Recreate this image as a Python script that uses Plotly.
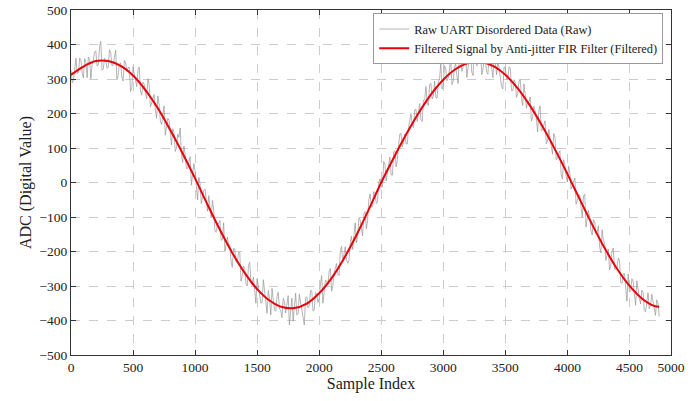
import plotly.graph_objects as go

# Filtered signal (read every 100 samples)
filt_x = [0, 100, 200, 300, 400, 500, 600, 700, 800, 900,
          1000, 1100, 1200, 1300, 1400, 1500, 1600, 1700, 1800, 1900,
          2000, 2100, 2200, 2300, 2400, 2500, 2600, 2700, 2800, 2900,
          3000, 3100, 3200, 3300, 3400, 3500, 3600, 3700, 3800, 3900,
          4000, 4100, 4200, 4300, 4400, 4500, 4600, 4700, 4740]
filt_y = [312, 336, 352, 352, 338, 310, 268, 215, 152, 84,
          12, -64, -137, -204, -262, -309, -342, -361, -364, -351,
          -321, -277, -220, -153, -78, 0, 71, 139, 201, 255,
          298, 329, 346, 349, 338, 312, 273, 222, 162, 96,
          25, -49, -122, -190, -250, -299, -336, -358, -360]

# Raw noisy data (read every 10 samples)
raw_step = 10
raw_y = [
    326, 289, 297, 338, 360, 316, 318, 361, 356, 317,
    303, 359, 349, 304, 364, 356, 301, 343, 355, 378,
    382, 338, 341, 394, 409, 325, 329, 360, 356, 331,
    334, 385, 377, 338, 340, 363, 384, 298, 311, 344,
    347, 304, 294, 354, 347, 322, 333, 334, 264, 274,
    336, 315, 298, 278, 326, 335, 263, 253, 291, 285,
    258, 243, 301, 283, 219, 230, 244, 255, 209, 186,
    251, 225, 178, 168, 195, 222, 137, 165, 186, 180,
    145, 109, 156, 145, 90, 100, 140, 131, 158, 82,
    58, 106, 81, 40, 41, 56, 75, -8, 23, 55,
    34, -8, -51, 15, -2, -61, -45, -23, -19, -63,
    -83, -38, -72, -102, -52, -79, -141, -144, -120, -120,
    -110, -168, -165, -117, -200, -183, -158, -178, -182, -230,
    -246, -192, -192, -230, -232, -203, -202, -286, -270, -242,
    -249, -294, -300, -241, -231, -290, -298, -274, -317, -350,
    -278, -300, -319, -350, -347, -282, -314, -350, -379, -313,
    -336, -384, -307, -340, -369, -373, -330, -318, -367, -370,
    -392, -336, -345, -378, -354, -328, -413, -370, -335, -402,
    -353, -321, -384, -380, -324, -348, -362, -387, -413, -335,
    -331, -363, -357, -314, -313, -373, -370, -319, -323, -348,
    -336, -296, -270, -350, -324, -284, -285, -298, -257, -249,
    -315, -300, -263, -247, -235, -266, -270, -199, -185, -230,
    -212, -186, -223, -234, -226, -176, -156, -194, -154, -117,
    -175, -156, -103, -108, -132, -155, -91, -84, -134, -111,
    -50, -33, -68, -71, -26, -33, -61, -55, -2, 11,
    -13, -13, 61, 52, 4, 26, 48, 74, 22, 21,
    89, 92, 45, 65, 110, 141, 142, 103, 117, 140,
    112, 112, 160, 176, 200, 164, 159, 211, 212, 177,
    205, 229, 180, 177, 239, 239, 278, 230, 223, 284,
    288, 242, 250, 294, 246, 245, 292, 300, 347, 271,
    278, 339, 329, 295, 303, 333, 355, 284, 294, 335,
    344, 309, 287, 378, 358, 322, 335, 370, 373, 305,
    335, 362, 367, 319, 310, 397, 375, 338, 354, 372,
    389, 313, 329, 358, 348, 319, 314, 374, 357, 332,
    304, 363, 346, 312, 357, 332, 312, 278, 271, 335,
    333, 299, 299, 335, 330, 266, 266, 298, 290, 247,
    257, 292, 300, 244, 223, 286, 256, 215, 234, 233,
    248, 178, 189, 221, 209, 187, 147, 208, 222, 149,
    153, 166, 179, 112, 119, 154, 128, 103, 82, 142,
    131, 66, 70, 84, 92, 24, 10, 66, 49, 18,
    1, 47, 26, -19, -8, 2, 13, -63, -53, -36,
    -37, -72, -100, -39, -34, -129, -107, -81, -100, -141,
    -152, -108, -114, -149, -144, -126, -188, -204, -137, -171,
    -173, -226, -210, -193, -254, -239, -198, -190, -251, -252,
    -247, -219, -226, -290, -292, -264, -264, -300, -344, -265,
    -317, -314, -279, -287, -325, -356, -285, -317, -335, -352,
    -312, -319, -371, -375, -336, -320, -366, -356, -324, -342,
    -370, -385, -340, -349, -389,
]
raw_x = [i * raw_step for i in range(len(raw_y))]

x_tick_vals = [0, 500, 1000, 1500, 2000, 2500, 3000, 3500, 4000, 4500, 4835]
x_tick_text = ["0", "500", "1000", "1500", "2000", "2500", "3000", "3500", "4000", "4500", "5000"]
y_tick_vals = [-500, -400, -300, -200, -100, 0, 100, 200, 300, 400, 500]

FONT = "Liberation Serif, Times New Roman, serif"

fig = go.Figure()
fig.add_trace(go.Scatter(
    x=raw_x, y=raw_y, mode="lines",
    line=dict(color="rgba(150,150,150,0.7)", width=1),
    name="Raw UART Disordered Data (Raw)"))
fig.add_trace(go.Scatter(
    x=filt_x, y=filt_y, mode="lines", line_shape="spline",
    line=dict(color="#e8000b", width=2),
    name="Filtered Signal by Anti-jitter FIR Filter (Filtered)"))

axis_common = dict(
    showline=True, linecolor="#333333", linewidth=1, mirror="allticks",
    ticks="inside", ticklen=5, tickcolor="#333333",
    showgrid=True, gridcolor="#cccccc", griddash="dash", gridwidth=1,
    zeroline=False, automargin=False, ticklabeloverflow="allow",
    tickfont=dict(family=FONT, size=13.5, color="#222222"),
)

fig.update_xaxes(range=[0, 4835], tickvals=x_tick_vals, ticktext=x_tick_text,
                 title=dict(text="Sample Index", font=dict(family=FONT, size=16, color="#222222"), standoff=2),
                 **axis_common)
fig.update_yaxes(range=[-500, 500], tickvals=y_tick_vals,
                 title=dict(text="ADC (Digital Value)", font=dict(family=FONT, size=16, color="#222222"), standoff=3),
                 **axis_common)

fig.update_layout(
    width=700, height=401,
    margin=dict(l=71, r=29, t=10, b=46),
    plot_bgcolor="white", paper_bgcolor="white",
    font=dict(family=FONT, size=13, color="#222222"),
    showlegend=True, hovermode=False,
    legend=dict(x=0.987, y=0.99, xanchor="right", yanchor="top",
                bgcolor="white", bordercolor="#999999", borderwidth=1,
                font=dict(family=FONT, size=12.4, color="#222222"),
                itemwidth=30, tracegroupgap=0),
)

# remove the default 8px page margin so the figure sits at the window origin
fig.write_html("out.html", config={"displayModeBar": False, "staticPlot": True},
               post_script="document.body.style.margin='0px';")
